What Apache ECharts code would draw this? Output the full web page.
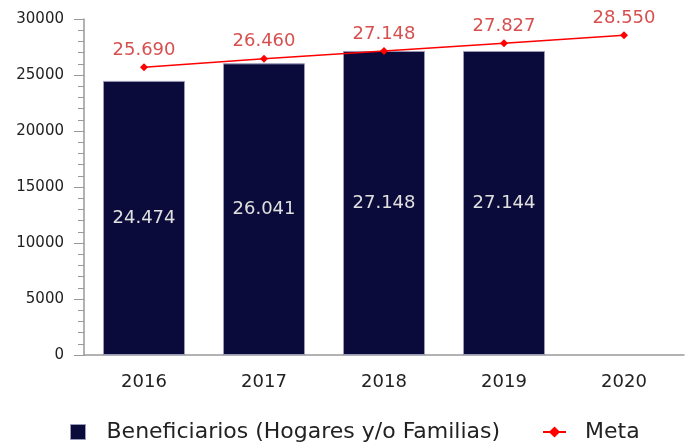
<!DOCTYPE html>
<html style="height: 100%">
<head>
<meta charset="utf-8" />
<title>Beneficiarios</title>
<script type="text/javascript" src="https://cdn.jsdelivr.net/npm/echarts@6/dist/echarts.min.js"></script>
</head>
<body style="height: 100%; margin: 0;">
<div id="container" style="width: 689px; height: 444px;"></div>
<script type="text/javascript">
    var years = ['2016', '2017', '2018', '2019', '2020'];
    var beneficiarios = [24474, 26041, 27148, 27144, null];
    var meta = [25690, 26460, 27148, 27827, 28550];
    var barName = 'Beneficiarios (Hogares y/o Familias)';
    var lineName = 'Meta';

    // 24474 -> "24.474"
    function fmt(v) {
        return String(v).replace(/\B(?=(\d{3})+(?!\d))/g, '.');
    }

    var myChart = echarts.init(document.getElementById('container'));
    var font = 'DejaVu Sans';
    var option = {
        animation: false,
        textStyle: { fontFamily: font },
        grid: { left: 84, right: 5, top: 19, bottom: 89 },
        legend: [
            {
                data: [barName],
                left: 65, top: 416,
                itemWidth: 15, itemHeight: 15,
                icon: 'rect',
                itemStyle: { borderColor: '#9a9ab8', borderWidth: 1 },
                textStyle: { fontSize: 22, color: '#222', fontFamily: font, padding: [0, 0, 0, 16] }
            },
            {
                data: [lineName],
                left: 537, top: 416,
                itemWidth: 23, itemHeight: 14,
                textStyle: { fontSize: 22, color: '#222', fontFamily: font, padding: [0, 0, 0, 14] }
            }
        ],
        xAxis: {
            type: 'category',
            data: years,
            axisLine: { lineStyle: { color: '#999', width: 1.5 } },
            axisTick: { show: false },
            axisLabel: { fontSize: 18, color: '#222', margin: 18, fontFamily: font }
        },
        yAxis: {
            type: 'value',
            min: 0, max: 30000, interval: 5000,
            axisLine: { show: true, lineStyle: { color: '#999', width: 1.5 } },
            axisTick: { show: true, length: 10, lineStyle: { color: '#999' } },
            minorTick: { show: true, splitNumber: 5, length: 6, lineStyle: { color: '#999' } },
            splitLine: { show: false },
            axisLabel: {
                fontSize: 15, color: '#222', margin: 20, fontFamily: font,
                formatter: function (v) { return String(v); }
            }
        },
        series: [
            {
                name: barName,
                type: 'bar',
                data: beneficiarios,
                barWidth: 82,
                itemStyle: { color: '#0b0b3b', borderColor: '#9a9ab8', borderWidth: 1 },
                label: {
                    show: true, position: 'inside',
                    color: '#e0e0e0', fontSize: 18, fontFamily: font,
                    formatter: function (p) { return fmt(p.value); }
                }
            },
            {
                name: lineName,
                type: 'line',
                data: meta,
                symbol: 'diamond',
                symbolSize: 8,
                lineStyle: { color: '#ff0000', width: 1.5 },
                itemStyle: { color: '#ff0000' },
                label: {
                    show: true, position: 'top', distance: 4,
                    color: '#d65050', fontSize: 18, fontFamily: font,
                    formatter: function (p) { return fmt(p.value); }
                }
            }
        ]
    };
    myChart.setOption(option);
</script>
</body>
</html>
